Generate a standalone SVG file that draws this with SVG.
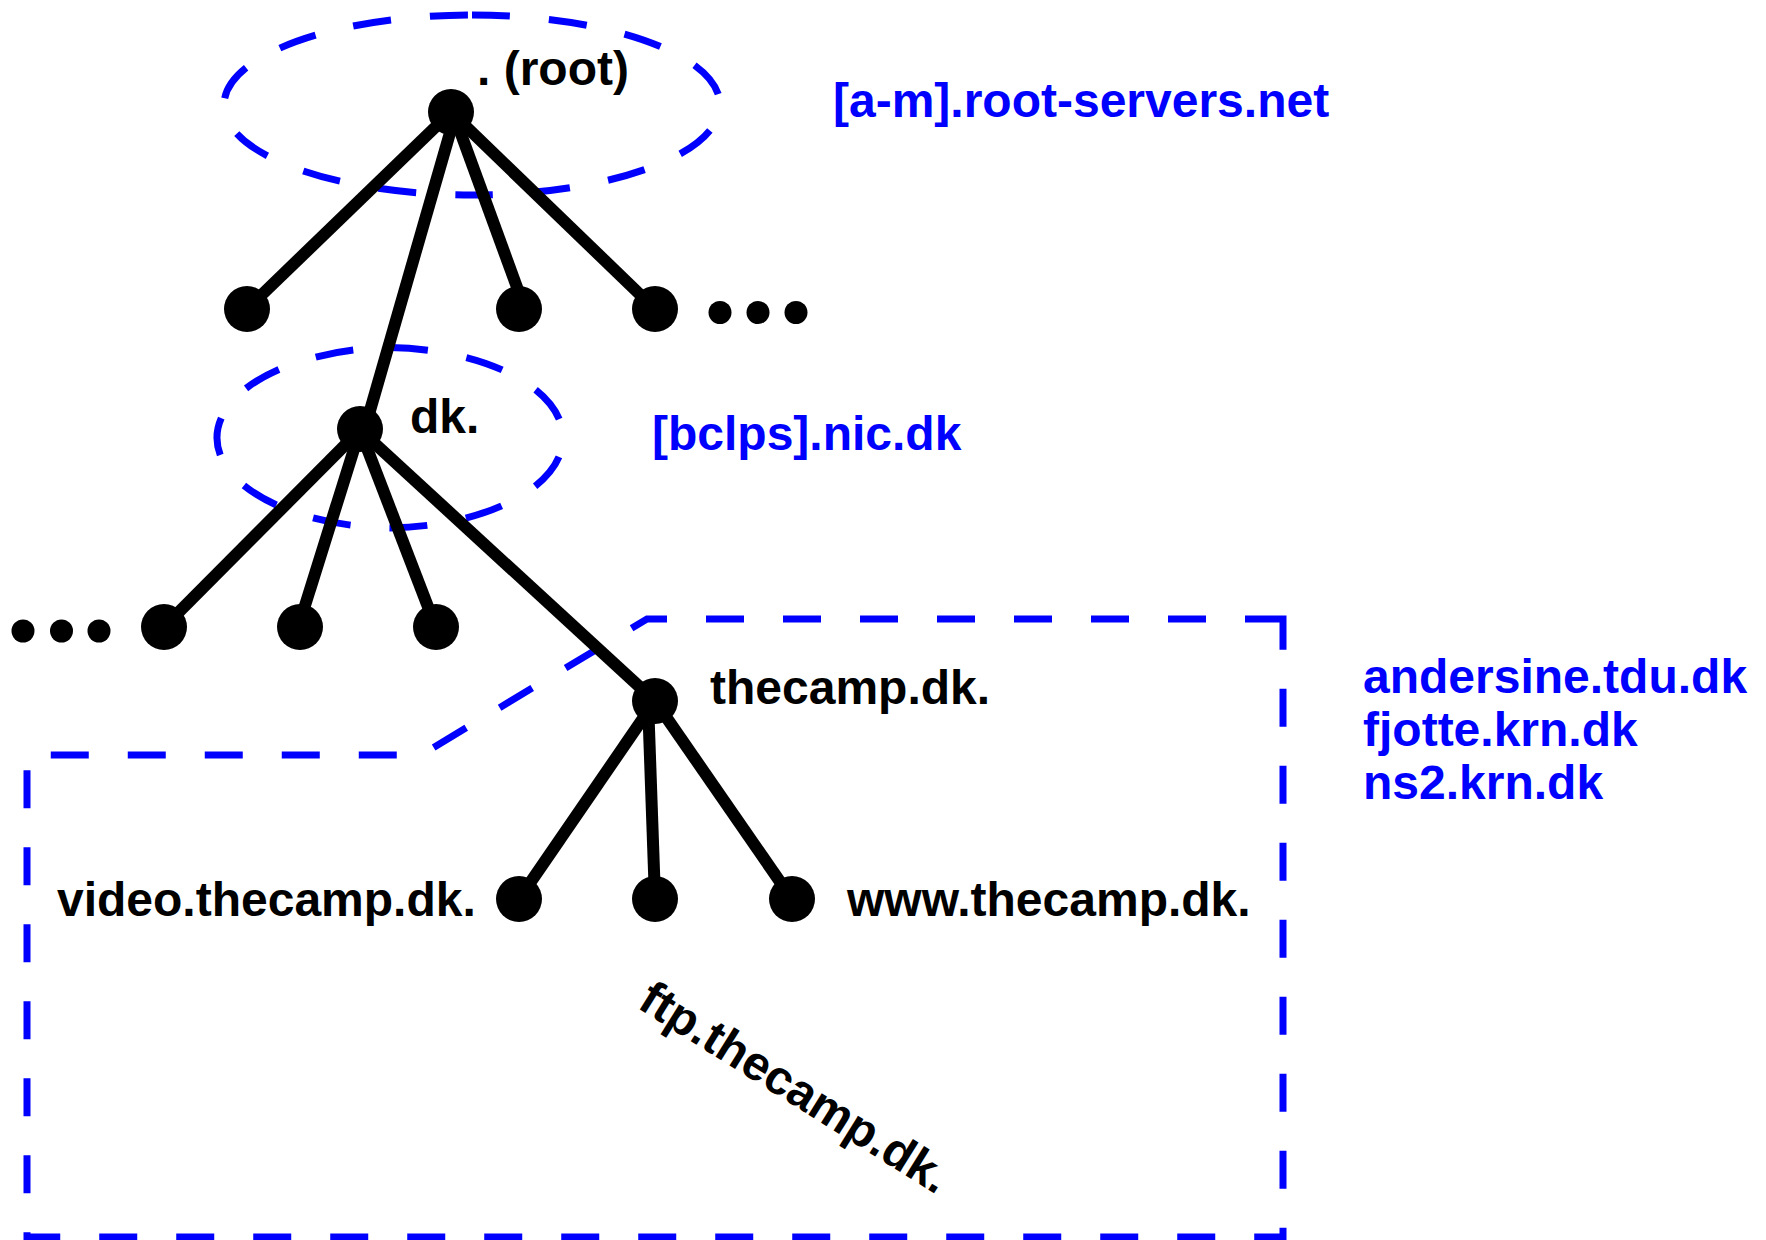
<svg xmlns="http://www.w3.org/2000/svg" width="1766" height="1240" viewBox="0 0 1766 1240">
<style>
.zone{fill:none;stroke:#0000ff;stroke-width:7;stroke-dasharray:38 39}
.edge{stroke:#000;stroke-width:12;stroke-linecap:butt}
.node{fill:#000}
.lbl{font-family:"Liberation Sans",Arial,sans-serif;font-weight:bold;font-size:48px;fill:#000}
.srv{font-family:"Liberation Sans",Arial,sans-serif;font-weight:bold;font-size:48px;fill:#0000ff}
</style>
<rect width="1766" height="1240" fill="#fff"/>
<g id="zones">
<path id="zone-root" class="zone" d="M472,15 A248,90 0 0 1 472,195 A248,90 0 0 1 472,15"/>
<path id="zone-dk" class="zone" d="M390,347.5 A179,90.3 0 0 1 390,528 A179,90.3 0 0 1 390,347.5"/>
<path id="zone-thecamp" class="zone" d="M1283,619 L647,619 L421,755 L27,755 L27,1237 L1283,1237 Z"/>
</g>
<g id="connectors">
<line class="edge" x1="451" y1="112" x2="247" y2="309"/>
<line class="edge" x1="453" y1="112" x2="518" y2="290"/>
<line class="edge" x1="451" y1="112" x2="655" y2="309"/>
<line class="edge" x1="456" y1="112" x2="365" y2="428"/>
<line class="edge" x1="360" y1="430" x2="164" y2="627"/>
<line class="edge" x1="360" y1="430" x2="303" y2="612"/>
<line class="edge" x1="360" y1="430" x2="430" y2="612"/>
<line class="edge" x1="360" y1="430" x2="655" y2="701"/>
<line class="edge" x1="655" y1="701" x2="519" y2="899"/>
<line class="edge" x1="648" y1="701" x2="655" y2="899"/>
<line class="edge" x1="655" y1="701" x2="792" y2="899"/>
</g>
<g id="node-root"><circle class="node" cx="451" cy="112" r="23"/><text class="lbl" x="477" y="85">. (root)</text></g>
<g id="node-root-c1"><circle class="node" cx="247" cy="309" r="23"/></g>
<g id="node-root-c2"><circle class="node" cx="519" cy="309" r="23"/></g>
<g id="node-root-c3"><circle class="node" cx="655" cy="309" r="23"/></g>
<g id="more-root"><circle class="node" cx="720" cy="312.5" r="11.5"/><circle class="node" cx="758" cy="312.5" r="11.5"/><circle class="node" cx="796" cy="312.5" r="11.5"/></g>
<g id="node-dk"><circle class="node" cx="360" cy="429" r="23"/><text class="lbl" x="410" y="433">dk.</text></g>
<g id="more-dk"><circle class="node" cx="23" cy="631" r="11.5"/><circle class="node" cx="61.5" cy="631" r="11.5"/><circle class="node" cx="99" cy="631" r="11.5"/></g>
<g id="node-dk-c1"><circle class="node" cx="164" cy="627" r="23"/></g>
<g id="node-dk-c2"><circle class="node" cx="300" cy="627" r="23"/></g>
<g id="node-dk-c3"><circle class="node" cx="436" cy="627" r="23"/></g>
<g id="node-thecamp"><circle class="node" cx="655" cy="701" r="23"/><text class="lbl" x="710" y="704">thecamp.dk.</text></g>
<g id="node-video"><circle class="node" cx="519" cy="899" r="23"/><text class="lbl" x="57" y="916">video.thecamp.dk.</text></g>
<g id="node-ftp"><circle class="node" cx="655" cy="899" r="23"/><text class="lbl" transform="translate(636,1007) rotate(32)">ftp.thecamp.dk.</text></g>
<g id="node-www"><circle class="node" cx="792" cy="899" r="23"/><text class="lbl" x="847" y="916">www.thecamp.dk.</text></g>
<g id="servers">
<text class="srv" x="833" y="117">[a-m].root-servers.net</text>
<text class="srv" x="652" y="450">[bclps].nic.dk</text>
<text class="srv" x="1363" y="693">andersine.tdu.dk</text>
<text class="srv" x="1363" y="746">fjotte.krn.dk</text>
<text class="srv" x="1363" y="799">ns2.krn.dk</text>
</g>
</svg>
